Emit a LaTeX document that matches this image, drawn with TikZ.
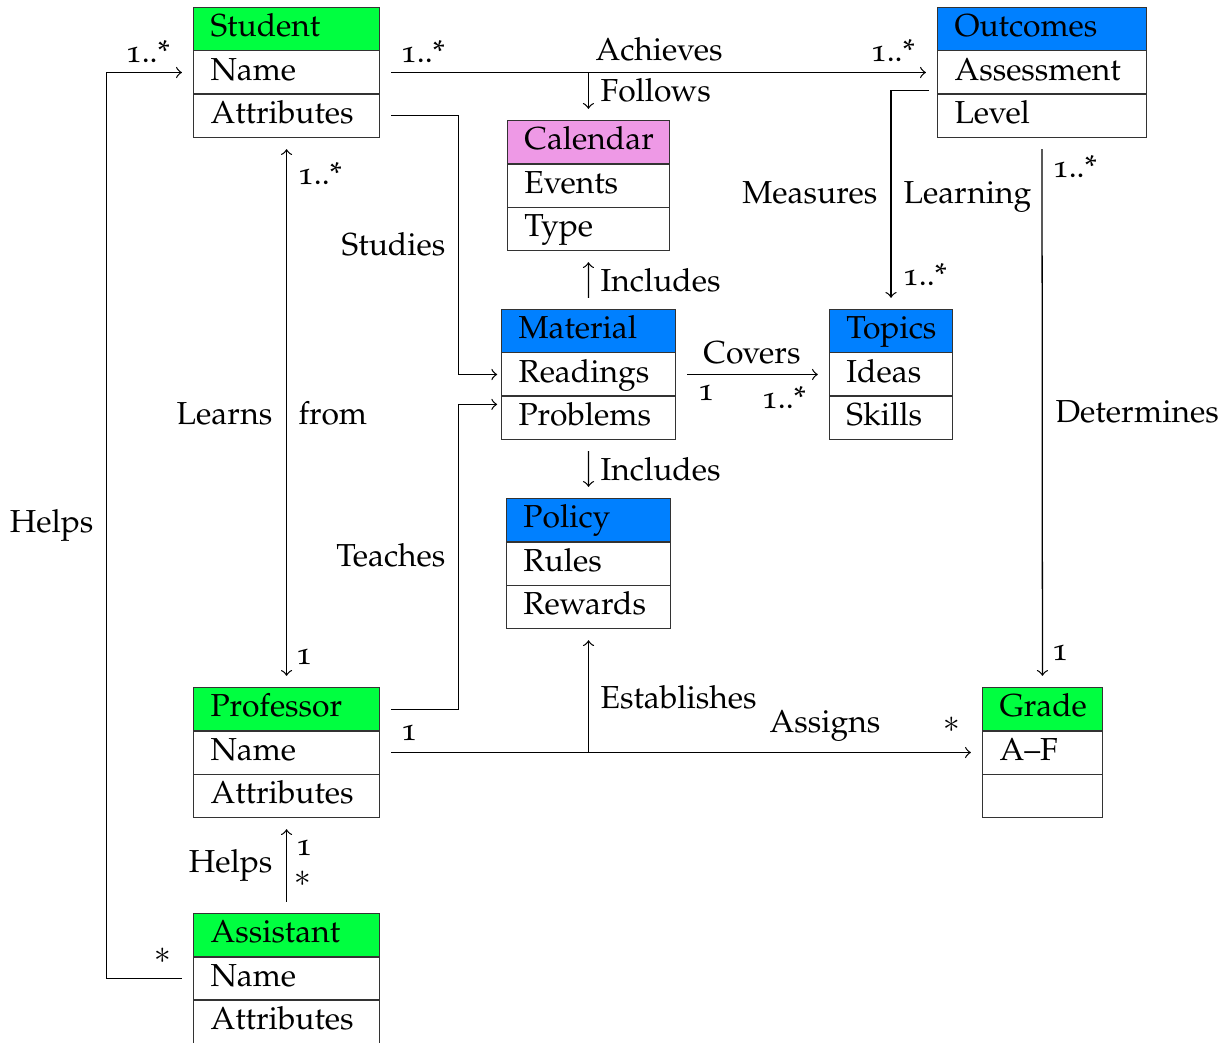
\documentclass[tikz,border=0pt]{standalone}
\usepackage[T1]{fontenc}
\usepackage[osf]{mathpazo}
\usetikzlibrary{shapes.multipart,calc}
\definecolor{classgreen}{HTML}{00FF40}
\definecolor{classblue}{HTML}{0080FF}
\definecolor{classpink}{HTML}{EE99E6}

\begin{document}
\begin{tikzpicture}[
  umlclass/.style 2 args={rectangle split, rectangle split parts=3, draw=black!80,
    rectangle split part fill={#1,white}, text width=#2, align=left,
    inner xsep=5.3pt, inner ysep=0.6pt, anchor=north west},
  link/.style={->, shorten >=3.5pt, shorten <=3.5pt},
  lbl/.style={inner sep=0pt, text height=1.5ex, text depth=.25ex}]
  \useasboundingbox (0,0) rectangle (13.558,-11.514);
  % classes
  \node[umlclass={classgreen}{47.8pt}] (student) at (2.133,-0.077)
     {\strut Student \nodepart{two}\strut Name \nodepart{three}\strut Attributes};
  \node[umlclass={classblue}{55pt}] (outcomes) at (10.354,-0.077)
     {\strut Outcomes \nodepart{two}\strut Assessment \nodepart{three}\strut Level};
  \node[umlclass={classpink}{40.2pt}] (calendar) at (5.602,-1.326)
     {\strut Calendar \nodepart{two}\strut Events \nodepart{three}\strut Type};
  \node[umlclass={classblue}{44pt}] (material) at (5.536,-3.414)
     {\strut Material \nodepart{two}\strut Readings \nodepart{three}\strut Problems};
  \node[umlclass={classblue}{28pt}] (topics) at (9.160,-3.414)
     {\strut Topics \nodepart{two}\strut Ideas \nodepart{three}\strut Skills};
  \node[umlclass={classblue}{40.9pt}] (policy) at (5.591,-5.503)
     {\strut Policy \nodepart{two}\strut Rules \nodepart{three}\strut Rewards};
  \node[umlclass={classgreen}{47.8pt}] (professor) at (2.133,-7.591)
     {\strut Professor \nodepart{two}\strut Name \nodepart{three}\strut Attributes};
  \node[umlclass={classgreen}{27pt}] (grade) at (10.851,-7.591)
     {\strut Grade \nodepart{two}\strut A--F \nodepart{three}\strut};
  \node[umlclass={classgreen}{47.8pt}] (assistant) at (2.133,-10.088)
     {\strut Assistant \nodepart{two}\strut Name \nodepart{three}\strut Attributes};

  % associations
  \draw[link] (student.two east) -- (outcomes.two west);
  \draw[->, shorten >=3.5pt] (student.two east -| calendar.north) -- (calendar.north);
  \draw[link, shorten >=1.2pt] (student.three east) -- ++(0.87,0) |- (material.two west);
  \draw[link, shorten >=1.2pt] (professor.text east) -- ++(0.87,0) |- ([yshift=4.2pt]material.three west);
  \draw[link, <->] (student.south) -- (professor.north);
  \draw[link] (material.north) -- (calendar.south);
  \draw[link] (material.south) -- (policy.north);
  \draw[link] (material.two east) -- (topics.two west);
  \draw[link, shorten <=2.5pt] ([yshift=-5.7pt]outcomes.two west) -| (topics.north);
  \draw[link] (outcomes.south) -- (grade.north);
  \draw[link] (professor.two east) -- (grade.two west);
  \draw[->, shorten >=3.5pt] (professor.two east -| policy.south) -- (policy.south);
  \draw[link] (assistant.north) -- (professor.south);
  \draw[link] (assistant.two west) -- ++(-0.96,0) |- (student.two west);

  % labels and multiplicities
  \node[lbl] (mHelpsTop) at (1.635,-0.586) {1..*};
  \node[lbl] (mAchL) at (4.674,-0.586) {1..*};
  \node[lbl] (lAchieves) at (7.282,-0.564) {Achieves};
  \node[lbl] (mAchR) at (9.867,-0.575) {1..*};
  \node[lbl, anchor=west] (lFollows) at (6.630,-1.017) {Follows};
  \node[lbl] (mLearnsTop) at (3.536,-1.934) {1..*};
  \node[lbl, anchor=east] (lStudies) at (4.928,-2.718) {Studies};
  \node[lbl, anchor=east] (lMeasures) at (9.702,-2.144) {Measures};
  \node[lbl, anchor=west] (lLearning) at (9.978,-2.144) {Learning};
  \node[lbl] (mDetTop) at (11.878,-1.856) {1..*};
  \node[lbl] (mMeasEnd) at (10.221,-3.050) {1..*};
  \node[lbl, anchor=west] (lIncUp) at (6.630,-3.116) {Includes};
  \node[lbl] (lCovers) at (8.309,-3.912) {Covers};
  \node[lbl] (mCovL) at (7.801,-4.320) {1};
  \node[lbl] (mCovR) at (8.663,-4.409) {1..*};
  \node[lbl, anchor=east] (lLearns) at (3.017,-4.586) {Learns};
  \node[lbl, anchor=west] (lFrom) at (3.293,-4.586) {from};
  \node[lbl, anchor=west] (lDetermines) at (11.657,-4.564) {Determines};
  \node[lbl, anchor=west] (lIncDown) at (6.630,-5.204) {Includes};
  \node[lbl, anchor=east] (lHelpsL) at (1.039,-5.779) {Helps};
  \node[lbl, anchor=east] (lTeaches) at (4.928,-6.155) {Teaches};
  \node[lbl] (mDetBot) at (11.713,-7.193) {1};
  \node[lbl] (mLearnsBot) at (3.359,-7.238) {1};
  \node[lbl, anchor=west] (lEstablishes) at (6.630,-7.724) {Establishes};
  \node[lbl] (lAssigns) at (9.116,-7.989) {Assigns};
  \node[lbl] (mAssL) at (4.519,-8.077) {1};
  \node[lbl] (mAssR) at (10.519,-7.99) {$*$};
  \node[lbl, anchor=east] (lHelpsP) at (3.017,-9.536) {Helps};
  \node[lbl] (mHelpsP1) at (3.359,-9.348) {1};
  \node[lbl] (mHelpsPs) at (3.348,-9.691) {$*$};
  \node[lbl] (mHelpsA) at (1.801,-10.541) {$*$};
\end{tikzpicture}
\end{document}
